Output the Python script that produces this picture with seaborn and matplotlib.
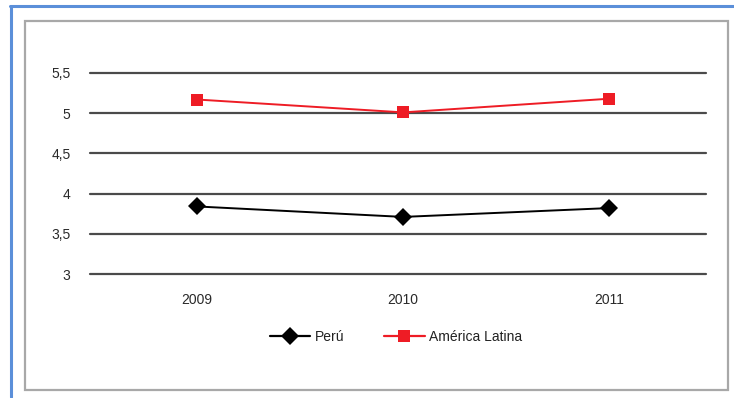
import matplotlib
matplotlib.use("Agg")
import matplotlib.pyplot as plt
import seaborn as sns
import pandas as pd
from matplotlib.patches import Rectangle
from matplotlib.lines import Line2D

years = ["2009", "2010", "2011"]
peru = [3.84, 3.71, 3.82]
america_latina = [5.17, 5.01, 5.18]
series_names = ["Perú", "América Latina"]
y_ticks = [3, 3.5, 4, 4.5, 5, 5.5]
y_tick_labels = ["3", "3,5", "4", "4,5", "5", "5,5"]

df = pd.DataFrame({
    "year": years * 2,
    "value": peru + america_latina,
    "series": [series_names[0]] * 3 + [series_names[1]] * 3,
})

sns.set_theme(style="white")
plt.rcParams["font.family"] = ["Liberation Sans", "DejaVu Sans"]

W, H = 734, 398
fig = plt.figure(figsize=(W / 100, H / 100), dpi=100)

# outer blue frame (left and top)
fig.add_artist(Line2D([11 / W, 11 / W], [1 - 6 / H, 1 - 397 / H], color="#5B8FD9", lw=2.2, transform=fig.transFigure))
fig.add_artist(Line2D([10 / W, 1.0], [1 - 6 / H, 1 - 6 / H], color="#5B8FD9", lw=2.2, transform=fig.transFigure))
# inner grey box
fig.add_artist(Rectangle((25 / W, 1 - 390 / H), (728 - 25) / W, (390 - 21) / H, transform=fig.transFigure,
                         fill=False, edgecolor="#A8A8A8", lw=1.6))

ax = fig.add_axes([90 / W, 1 - 274 / H, (706 - 90) / W, (274 - 73) / H])
palette = {series_names[0]: "black", series_names[1]: "#EE1C25"}
markers = {series_names[0]: "D", series_names[1]: "s"}
sns.lineplot(data=df, x="year", y="value", hue="series", style="series", palette=palette,
             markers=markers, dashes=False, markersize=9, lw=1.4, markeredgewidth=0, ax=ax, legend=False)

ax.set_xlim(-0.52, 2.47)
ax.set_ylim(3, 5.5)
ax.set_yticks(y_ticks)
ax.set_yticklabels(y_tick_labels)
ax.yaxis.grid(True, color="#4A4A4A", lw=1.6)
for gl in ax.yaxis.get_gridlines():
    gl.set_clip_on(False)
ax.set_axisbelow(True)
for s in ax.spines.values():
    s.set_visible(False)
ax.set_xlabel("")
ax.set_ylabel("")
ax.tick_params(axis="both", length=0, labelsize=10, labelcolor="#2A2A2A")
ax.tick_params(axis="y", pad=14)
ax.tick_params(axis="x", pad=14)

handles = [
    Line2D([0], [0], color="black", marker="D", markersize=9, lw=1.6, markeredgewidth=0),
    Line2D([0], [0], color="#EE1C25", marker="s", markersize=9, lw=1.6, markeredgewidth=0),
]
fig.legend(handles, series_names, loc="center", bbox_to_anchor=(396 / W, 1 - 337 / H), ncol=2,
           frameon=False, fontsize=10, handlelength=2.9, columnspacing=2.9, handletextpad=0.3,
           labelcolor="#222222")

fig.savefig("out.png", dpi=100)
